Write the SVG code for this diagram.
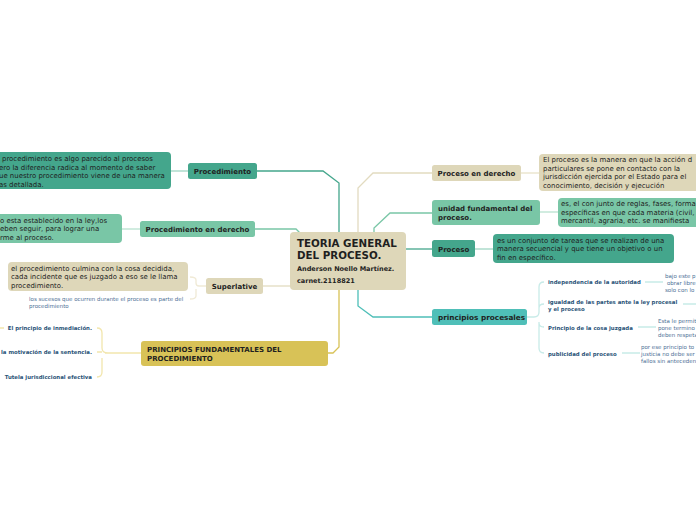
<svg xmlns="http://www.w3.org/2000/svg" width="696" height="520" viewBox="0 0 696 520">
<style>
text{font-family:"DejaVu Sans","Verdana",sans-serif;fill:#1f1f1f}
.b{font-weight:bold}
.n{font-size:6.95px}
.t{font-size:7px;font-weight:bold}
.s{font-size:5.4px;font-weight:bold;fill:#2b5478}
.sn{font-size:5.5px;fill:#4d6f96}
.dg{fill:#44a68c}
.lg{fill:#79c6a6}
.bg{fill:#ded7b9}
.yl{fill:#d8c257}
.tl{fill:#4fbfb8}
.c{fill:none;stroke-width:1.3}
</style>
<rect width="696" height="520" fill="#ffffff"/>
<g id="connectors">
<path class="c" stroke="#44a68c" d="M339,232 V183 L323,171 H257"/>
<path class="c" stroke="#79c6a6" d="M300,233 L296,229 H255"/>
<path class="c" stroke="#e2dbc0" d="M263,286 H291"/>
<path class="c" stroke="#d8c257" d="M339,290 V347 L333,353 H328"/>
<path class="c" stroke="#e2dbc0" d="M358,232 V188 L373,173 H432"/>
<path class="c" stroke="#79c6a6" d="M374,232 V228 L390,213 H432"/>
<path class="c" stroke="#44a68c" d="M406,249 H432"/>
<path class="c" stroke="#4fbfb8" d="M358,290 V306 L373,317 H432"/>
<path class="c" stroke="#9fd6c3" d="M171,171 H188"/>
<path class="c" stroke="#b8e2d0" d="M122,229 H140"/>
<path class="c" stroke="#f0ead6" d="M206,286 H199 Q196,286 196,283 V280 Q196,277 190,277 M196,289 V296 Q196,299 190,299"/>
<path class="c" stroke="#f2e6ad" d="M141,353 H105 M108,353 Q102,353 102,348 V333 Q102,328 97,328 M102,352 Q102,352 97,352 M102,358 V372 Q102,377 97,377 M0,328 H4"/>
<path class="c" stroke="#e8e2c8" d="M521,173 H539"/>
<path class="c" stroke="#b8e2d0" d="M540,212 H558"/>
<path class="c" stroke="#9fd6c3" d="M475,249 H493"/>
<path class="c" stroke="#c8ebe8" d="M527,317 H534 Q539,317 539,312 V287 Q539,282 544,282 M539,312 V308 Q539,304 544,304 M539,322 V323 Q539,327 544,327 M539,322 V348 Q539,353 544,353"/>
<path class="c" stroke="#c8ebe8" d="M645,282 H663 M683,304 H696 M638,327 H656 M622,353 H640"/>
</g>
<g id="center">
<rect x="290" y="232" width="116" height="58" rx="4" class="bg"/>
<text x="297" y="247" class="b" font-size="10.3">TEORIA GENERAL</text>
<text x="297" y="259" class="b" font-size="10.3">DEL PROCESO.</text>
<text x="297" y="271" class="b" font-size="6.5">Anderson Noello Martínez.</text>
<text x="297" y="283" class="b" font-size="6.5">carnet.2118821</text>
</g>
<g id="procedimiento">
<rect x="188" y="163" width="69" height="16" rx="2.5" class="dg"/>
<text x="222.5" y="174" class="t" text-anchor="middle">Procedimiento</text>
</g>
<g id="procedimiento-note">
<rect x="-10" y="152" width="181" height="37" rx="4" class="dg"/>
<text class="n"><tspan x="2" y="161">procedimiento es algo parecido al procesos</tspan><tspan x="-1" y="169.5">ero la diferencia radica al momento de saber</tspan><tspan x="-1" y="178">ue nuestro procedimiento viene de una manera</tspan><tspan x="-1" y="186.5">as detallada.</tspan></text>
</g>
<g id="procedimiento-derecho">
<rect x="140" y="221" width="115" height="16" rx="2.5" class="lg"/>
<text x="197.5" y="232" class="t" text-anchor="middle">Procedimiento en derecho</text>
</g>
<g id="procedimiento-derecho-note">
<rect x="-10" y="214" width="132" height="29" rx="4" class="lg"/>
<text class="n"><tspan x="0" y="222.5">o esta establecido en la ley,los</tspan><tspan x="0" y="231">eben seguir, para lograr una</tspan><tspan x="0" y="239.5">rme al proceso.</tspan></text>
</g>
<g id="superlative">
<rect x="206" y="278" width="57" height="16" rx="2.5" class="bg"/>
<text x="234.5" y="289" class="t" text-anchor="middle">Superlative</text>
</g>
<g id="superlative-note">
<rect x="8" y="262" width="180" height="29" rx="4" class="bg"/>
<text class="n"><tspan x="11" y="270.5">el procedimiento culmina con la cosa decidida,</tspan><tspan x="11" y="279">cada incidente que es juzgado a eso se le llama</tspan><tspan x="11" y="287.5">procedimiento.</tspan></text>
</g>
<g id="superlative-sub">
<text class="sn"><tspan x="29" y="301">los sucesos que ocurren durante el proceso es parte del</tspan><tspan x="29" y="308">procedimiento</tspan></text>
</g>
<g id="principios-fundamentales">
<rect x="141" y="341" width="187" height="25" rx="3" class="yl"/>
<text class="t"><tspan x="147" y="351.5">PRINCIPIOS FUNDAMENTALES DEL</tspan><tspan x="147" y="360.5">PROCEDIMIENTO</tspan></text>
</g>
<g id="pf-1"><text x="92" y="330" class="s" text-anchor="end">El principio de inmediación.</text></g>
<g id="pf-2"><text x="92" y="353.5" class="s" text-anchor="end">la motivación de la sentencia.</text></g>
<g id="pf-3"><text x="92" y="379" class="s" text-anchor="end">Tutela jurisdiccional efectiva</text></g>
<g id="proceso-derecho">
<rect x="432" y="165" width="89" height="16" rx="2.5" class="bg"/>
<text x="476.5" y="176" class="t" text-anchor="middle">Proceso en derecho</text>
</g>
<g id="proceso-derecho-note">
<rect x="539" y="154" width="170" height="37" rx="4" class="bg"/>
<text class="n"><tspan x="543" y="162">El proceso es la manera en que  la acción d</tspan><tspan x="543" y="170.5">particulares se pone en contacto con la</tspan><tspan x="543" y="179">jurisdicción ejercida por el Estado para el</tspan><tspan x="543" y="187.5">conocimiento, decisión y ejecución</tspan></text>
</g>
<g id="unidad">
<rect x="432" y="200" width="108" height="25" rx="3" class="lg"/>
<text class="t"><tspan x="438" y="211">unidad fundamental del</tspan><tspan x="438" y="220">proceso.</tspan></text>
</g>
<g id="unidad-note">
<rect x="558" y="198" width="150" height="29" rx="4" class="lg"/>
<text class="n"><tspan x="561" y="206">es, el con junto de reglas, fases, forma</tspan><tspan x="561" y="214.5">específicas en que cada materia (civil,</tspan><tspan x="561" y="223">mercantil, agraria, etc. se manifiesta</tspan></text>
</g>
<g id="proceso">
<rect x="432" y="240" width="43" height="17" rx="2.5" class="dg"/>
<text x="438" y="251.5" class="t">Proceso</text>
</g>
<g id="proceso-note">
<rect x="493" y="234" width="181" height="29" rx="4" class="dg"/>
<text class="n"><tspan x="497" y="242.5">es un conjunto de tareas que se realizan de una</tspan><tspan x="497" y="251">manera secuencial y que tiene un objetivo o un</tspan><tspan x="497" y="259.5">fin en específico.</tspan></text>
</g>
<g id="principios-procesales">
<rect x="432" y="309" width="95" height="16" rx="2.5" class="tl"/>
<text x="438" y="320" class="b" font-size="7.3">principios procesales</text>
</g>
<g id="pp-1">
<text x="548" y="284" class="s">independencia de la autoridad</text>
<text class="sn"><tspan x="665" y="277.5">bajo este p</tspan><tspan x="667" y="284.5">obrar libre</tspan><tspan x="665" y="291.5">solo con lo</tspan></text>
</g>
<g id="pp-2">
<text class="s"><tspan x="548" y="303.5">igualdad de las partes ante la ley procesal</tspan><tspan x="548" y="310.5">y el proceso</tspan></text>
</g>
<g id="pp-3">
<text x="548" y="329.5" class="s">Principio de la cosa juzgada</text>
<text class="sn"><tspan x="658" y="323">Esta le permit</tspan><tspan x="658" y="330">pone termino</tspan><tspan x="658" y="337">deben respeta</tspan></text>
</g>
<g id="pp-4">
<text x="548" y="355.5" class="s">publicidad del proceso</text>
<text class="sn"><tspan x="641" y="349">por ese principio to</tspan><tspan x="641" y="356">justicia no debe ser</tspan><tspan x="641" y="363">fallos sin anteceden</tspan></text>
</g>
</svg>
